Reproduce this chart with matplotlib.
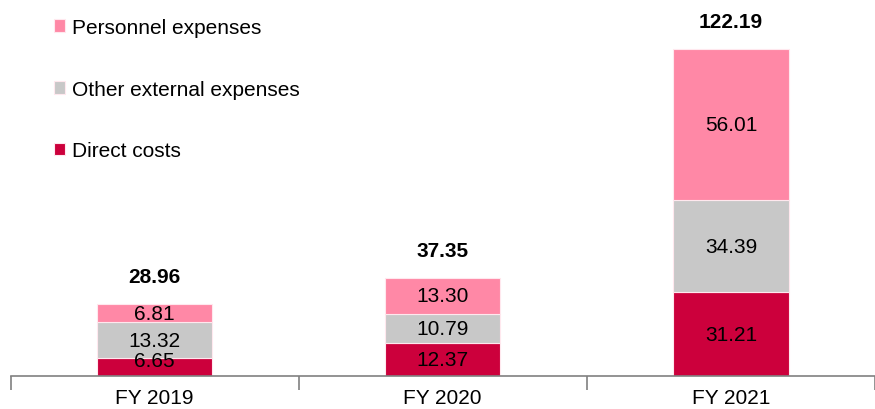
import matplotlib
matplotlib.use("Agg")
from matplotlib import pyplot as plt
import numpy as np

years = ["FY 2019", "FY 2020", "FY 2021"]
direct_costs = [6.65, 12.37, 31.21]
other_external = [13.32, 10.79, 34.39]
personnel = [6.81, 13.30, 56.01]
totals = [28.96, 37.35, 122.19]

plt.rcParams["font.family"] = ["Liberation Sans", "DejaVu Sans"]

fig = plt.figure(figsize=(8.75, 4.10), dpi=100)
ax = fig.add_axes([10.5 / 875, 33 / 410, 864.5 / 875, 377 / 410])

x = np.arange(len(years))
w = 0.4
c_direct = "#CC003C"
c_other = "#C8C8C8"
c_pers = "#FF88A6"

b1 = ax.bar(x, direct_costs, w, color=c_direct, edgecolor="#FFE8EE", linewidth=0.8, label="Direct costs")
b2 = ax.bar(x, other_external, w, bottom=direct_costs, color=c_other, edgecolor="#FFE8EE", linewidth=0.8,
            label="Other external expenses")
bottom3 = [a + b for a, b in zip(direct_costs, other_external)]
b3 = ax.bar(x, personnel, w, bottom=bottom3, color=c_pers, edgecolor="#FFE8EE", linewidth=0.8,
            label="Personnel expenses")

# подписи сегментов
for i in range(len(years)):
    ax.text(x[i], max(direct_costs[i] / 2, 5.6), f"{direct_costs[i]:.2f}", ha="center", va="center",
            fontsize=15)
    ax.text(x[i], direct_costs[i] + other_external[i] / 2, f"{other_external[i]:.2f}",
            ha="center", va="center", fontsize=15)
    ax.text(x[i], bottom3[i] + personnel[i] / 2, f"{personnel[i]:.2f}", ha="center", va="center", fontsize=15)
    top = bottom3[i] + personnel[i]
    ax.annotate(f"{totals[i]:.2f}", (x[i], top), xytext=(0, 20), textcoords="offset points",
                ha="center", va="center", fontsize=15, fontweight="bold")

ax.set_xlim(-0.5, -0.5 + 864.5 / 291)
ax.set_ylim(0, 377 / 2.685)

for s in ["top", "right", "left"]:
    ax.spines[s].set_visible(False)
ax.spines["bottom"].set_color("#808080")
ax.spines["bottom"].set_linewidth(1.2)
ax.set_yticks([])
ax.set_xticks([-0.5, 0.5, 1.5, 2.5])
ax.set_xticklabels([])
ax.set_xticks(x, minor=True)
ax.set_xticklabels(years, minor=True, fontsize=15)
ax.tick_params(axis="x", which="major", length=10, color="#808080", width=1.2)
ax.tick_params(axis="x", which="minor", length=0, pad=9)

ax.legend(handles=[b3, b2, b1], loc="upper left", bbox_to_anchor=(54 / 875, 1 - 19 / 410),
          bbox_transform=fig.transFigure, frameon=False, fontsize=15, labelspacing=2.05,
          handlelength=0.55, handleheight=0.55, handletextpad=0.3, borderpad=0, borderaxespad=0)

fig.savefig("out.png", dpi=100)
